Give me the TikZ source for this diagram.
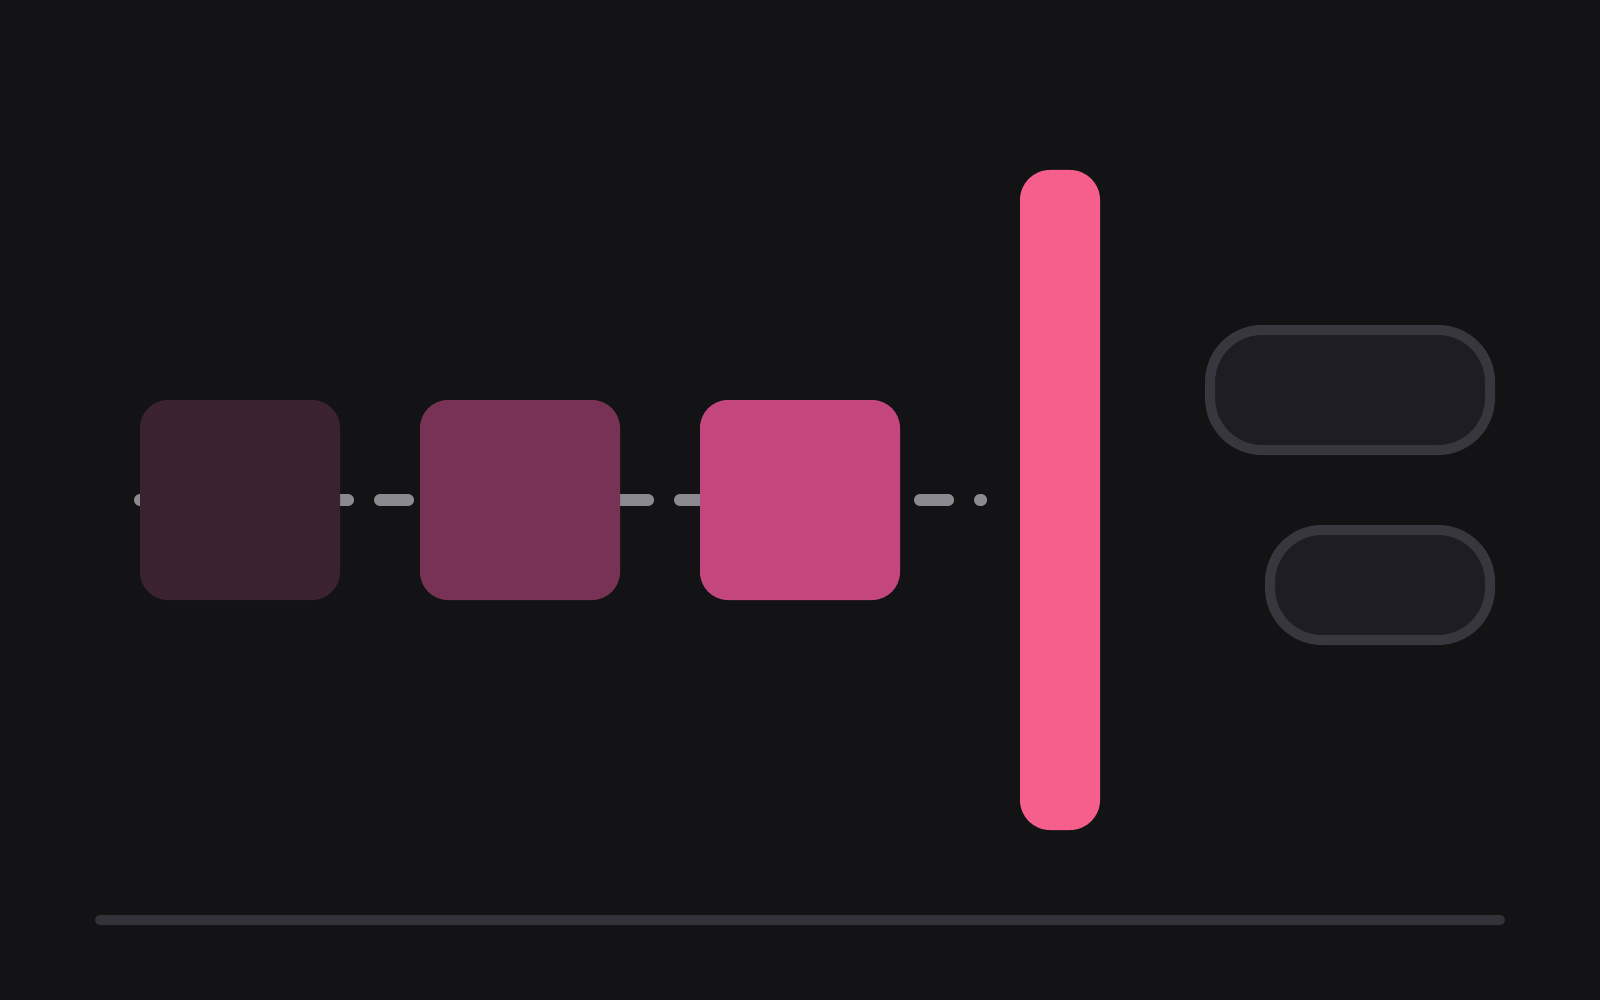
\documentclass[tikz,border=0pt]{standalone}
\usepackage[dvipsnames]{xcolor}
\definecolor{BGcolor}{HTML}{131316}
\definecolor{DASHcolor}{HTML}{8B8A90}
\definecolor{SQonecolor}{HTML}{3B2230}
\definecolor{SQtwocolor}{HTML}{773256}
\definecolor{SQthreecolor}{HTML}{C3467C}
\definecolor{BARcolor}{HTML}{F65F8B}
\definecolor{PILLcolor}{HTML}{1E1D23}
\definecolor{EDGEcolor}{HTML}{38373E}
\definecolor{TRACKcolor}{HTML}{333239}
\usepackage{tikz}
\usetikzlibrary{math}

\begin{document}
\begin{tikzpicture}[x=1pt, y=-1pt]
    \tikzset{%
        block/.style={rectangle, inner sep=0pt, minimum width=200pt, minimum height=200pt, rounded corners=28pt},
        pill/.style args={#1/#2}{rectangle, inner sep=0pt, minimum width=#1, minimum height=#2,
                rounded corners=52pt, fill=PILLcolor, draw=EDGEcolor, line width=10pt}
    }

    \fill [BGcolor] (0, 0) rectangle (1600, 1000);
    \useasboundingbox (0, 0) rectangle (1600, 1000);

    \coordinate (start) at (140, 500);
    \coordinate (stop) at (981, 500);
    \draw [DASHcolor, line width=12pt, line cap=round, dash pattern=on 28pt off 32pt] (start) -- (stop);

    \foreach \name/\x/\col in {first/240/SQonecolor, second/520/SQtwocolor, third/800/SQthreecolor} {%
            \node (\name) at (\x, 500) [block, fill=\col] {};
        };

    \node (bar) at (1060, 500) [rectangle, inner sep=0pt, minimum width=80pt, minimum height=660pt, rounded corners=30pt, fill=BARcolor] {};

    \node (upper) at (1350, 390) [pill=280pt/120pt] {};
    \node (lower) at (1380, 585) [pill=220pt/110pt] {};

    \node (track) at (800, 920) [rectangle, inner sep=0pt, minimum width=1410pt, minimum height=10pt, rounded corners=5pt, fill=TRACKcolor] {};
\end{tikzpicture}
\end{document}
